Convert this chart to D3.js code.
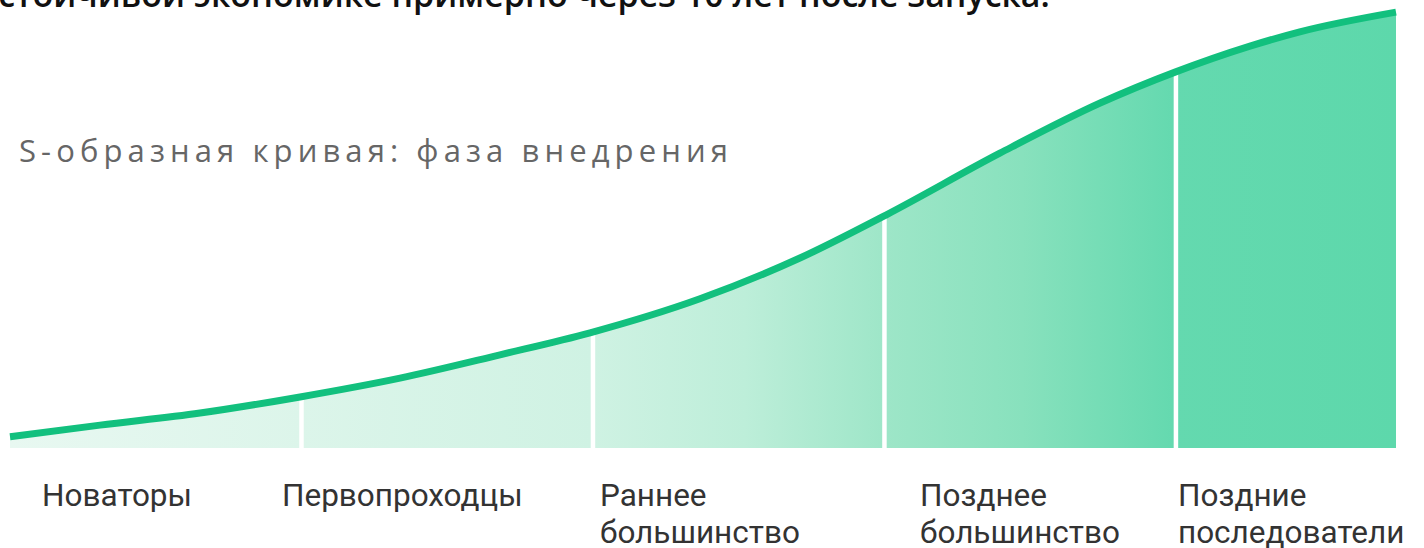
<!DOCTYPE html>
<html>
<head>
<meta charset="utf-8">
<script src="https://cdn.jsdelivr.net/npm/d3@7"></script>
<style>
  html, body { margin: 0; padding: 0; background: #ffffff; overflow: hidden; }
  svg { display: block; }
</style>
</head>
<body>
<svg id="chart" width="1424" height="548"></svg>
<script>
// ---- data ----
const headerText = "устойчивой экономике примерно через 10 лет после запуска.";
const chartTitle = "S-образная кривая: фаза внедрения";
// adoption phases (x in phase units)
const phases = [
  ["Новаторы"],
  ["Первопроходцы"],
  ["Раннее", "большинство"],
  ["Позднее", "большинство"],
  ["Поздние", "последователи"]
];
const phaseBounds = [1, 2, 3, 4];
const labelPos = [0.11, 0.933, 2.024, 3.122, 4.007];
// S-curve samples
const curveX = [0, 0.309, 0.652, 0.995, 1.338, 1.681, 1.99, 2.367, 2.71, 3.005, 3.396, 3.74, 3.997, 4.254, 4.425, 4.755];
const curveY = [2.5, 5.1, 7.8, 11.4, 15.6, 20.8, 25.7, 33.3, 42.4, 52.0, 65.8, 77.0, 83.9, 89.7, 92.9, 97.3];

// ---- chart ----
const svg = d3.select("#chart");
const x = d3.scaleLinear().domain([0, 4.755]).range([10, 1396]);
const y = d3.scaleLinear().domain([0, 100]).range([448, 0]);
const pts = curveX.map((v, i) => ({ x: v, y: curveY[i] }));

const defs = svg.append("defs");
const grad = defs.append("linearGradient")
  .attr("id", "fillGrad")
  .attr("gradientUnits", "userSpaceOnUse")
  .attr("x1", x(0)).attr("x2", x(4.755)).attr("y1", 0).attr("y2", 0);
[
  [0.00, "#e8f8f1"],
  [0.21, "#dcf5ea"],
  [0.42, "#cff2e3"],
  [0.53, "#bdeed9"],
  [0.63, "#9ee6c8"],
  [0.73, "#88e1bd"],
  [0.84, "#64d9af"],
  [1.00, "#5dd8ab"]
].forEach(([o, c]) => grad.append("stop").attr("offset", o).attr("stop-color", c));

// header (clipped at top)
svg.append("text")
  .attr("x", -20).attr("y", 7)
  .attr("font-family", "'Open Sans', sans-serif")
  .attr("font-weight", 600)
  .attr("font-size", 34)
  .attr("fill", "#111")
  .text(headerText);

// area
const area = d3.area().x(d => x(d.x)).y0(y(0)).y1(d => y(d.y)).curve(d3.curveMonotoneX);
svg.append("path").datum(pts).attr("d", area).attr("fill", "url(#fillGrad)");

// separators
const lineGen = d3.line().x(d => x(d.x)).y(d => y(d.y)).curve(d3.curveMonotoneX);
const curvePath = svg.append("path").datum(pts).attr("d", lineGen)
  .attr("fill", "none").attr("stroke", "none");
const node = curvePath.node();
const total = node.getTotalLength();
function yAtX(px) {
  let lo = 0, hi = total;
  for (let i = 0; i < 40; i++) {
    const mid = (lo + hi) / 2;
    if (node.getPointAtLength(mid).x < px) lo = mid; else hi = mid;
  }
  return node.getPointAtLength(lo).y;
}
svg.selectAll("line.sep").data(phaseBounds).join("line")
  .attr("class", "sep")
  .attr("x1", d => x(d)).attr("x2", d => x(d))
  .attr("y1", y(0)).attr("y2", d => yAtX(x(d)))
  .attr("stroke", "#ffffff").attr("stroke-width", 4.5);

// curve
svg.append("path").datum(pts).attr("d", lineGen)
  .attr("fill", "none").attr("stroke", "#12c07e").attr("stroke-width", 7);

// title (letter-spacing fitted to the reference width)
const title = svg.append("text")
  .attr("x", 19).attr("y", 162)
  .attr("font-family", "'Open Sans', sans-serif")
  .attr("font-size", 31)
  .attr("fill", "#666")
  .text(chartTitle);
const natural = title.node().getComputedTextLength();
const nChars = chartTitle.length;
title.attr("letter-spacing", Math.max(0, (714 - natural) / nChars));

// labels
const lab = svg.selectAll("text.lab").data(phases).join("text")
  .attr("class", "lab")
  .attr("font-family", "Roboto, sans-serif")
  .attr("font-size", 31.5)
  .attr("fill", "#333")
  .attr("transform", (d, i) => `translate(${x(labelPos[i])},506)`);
lab.selectAll("tspan").data(d => d).join("tspan")
  .attr("x", 0).attr("dy", (d, i) => i === 0 ? 0 : 37)
  .text(d => d);
</script>
</body>
</html>
